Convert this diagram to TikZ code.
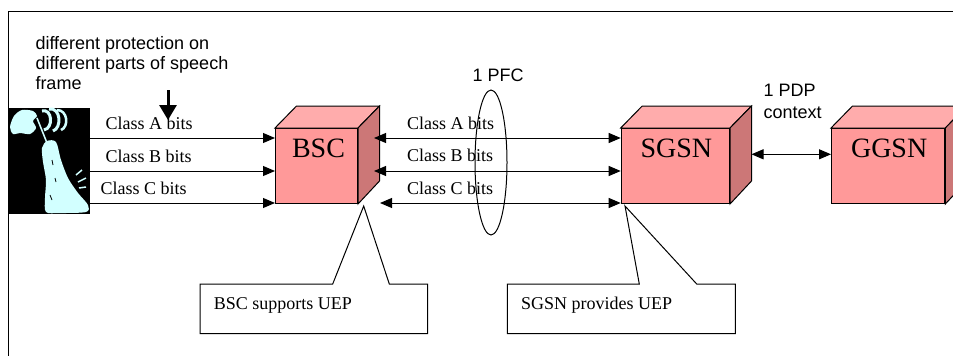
\documentclass[tikz,border=0pt]{standalone}
\usepackage{fontspec}
\setmainfont{Liberation Serif}
\newfontfamily\arialf{Liberation Sans}
\usetikzlibrary{arrows.meta}
\definecolor{boxfront}{RGB}{255,153,153}
\definecolor{boxtop}{RGB}{255,172,172}
\definecolor{boxside}{RGB}{204,119,119}
\definecolor{phonecyan}{RGB}{210,255,255}
\begin{document}
\begin{tikzpicture}[x=1pt,y=-1pt,line width=1pt,
  frontface/.style={draw,fill=boxfront,minimum height=75,inner sep=0,anchor=north west},
  boxlabel/.style={font=\fontsize{28}{30}\selectfont,anchor=north,inner sep=0},
  bits/.style={font=\fontsize{18}{20}\selectfont,anchor=base west,inner sep=0},
  sanstext/.style={font=\arialf\fontsize{18}{20}\selectfont,anchor=base west,inner sep=0,align=left},
  tipstyle/.tip={Triangle[length=12pt,width=10pt]},
  link/.style={-tipstyle},
  dlink/.style={tipstyle-tipstyle},
  notebox/.style={inner sep=0,anchor=north west,minimum height=48.7},
  notetext/.style={font=\fontsize{18}{20}\selectfont,anchor=base west,inner sep=0}]
\useasboundingbox (0,0) rectangle (953,356);
% frame
\coordinate (fbl) at (8,356);
\coordinate (ftl) at (8,11);
\coordinate (ftr) at (953,11);
\draw (fbl) -- (ftl) -- (ftr);

% phone clip-art
\node[fill=black,minimum width=81,minimum height=106,inner sep=0,anchor=north west] (phone) at (8,107) {};
\fill[phonecyan] plot[smooth cycle] coordinates {(42,148) (47,141) (56,142) (61,160) (68,178) (78,193) (88,205) (86,212) (60,213) (46,212) (45,198) (46,180) (43,162)};
\draw[phonecyan,line width=1.5] (37,118) -- (47,143);
\fill[phonecyan] plot[smooth cycle] coordinates {(10,127) (14,116) (22,110) (33,111) (37,116) (33,121) (36,128) (30,134) (20,133) (13,134)};
\draw[phonecyan,line width=3] (42,111) .. controls (52,108) and (54,128) .. (44,130);
\draw[phonecyan,line width=3] (49,109) .. controls (61,107) and (62,128) .. (53,131);
\draw[phonecyan,line width=2.5] (57,110) .. controls (68,110) and (69,127) .. (61,130);
\draw[phonecyan,line width=1.5] (76,175) -- (82,170) (78,182) -- (86,178) (79,188) -- (86,187);
\draw[black,line width=0.8] (52,160) -- (53,165) (55,178) -- (56,182) (50,195) -- (52,200);

% boxes
\node[frontface,minimum width=82] (bsc) at (275,128) {};
\node[frontface,minimum width=108.3] (sgsn) at (620.7,128) {};
\node[frontface,minimum width=113.3] (ggsn) at (831,128) {};
\foreach \b in {bsc,sgsn,ggsn}{
  \draw[fill=boxtop] (\b.north west) -- ++(21.5,-22) -- ([shift={(21.5,-22)}]\b.north east) -- (\b.north east) -- cycle;
  \draw[fill=boxside] (\b.north east) -- ++(21.5,-22) -- ++(0,75) -- (\b.south east) -- cycle;
}
\node[boxlabel] (bsclbl) at ([shift={(2,10)}]bsc.north) {BSC};
\node[boxlabel] (sgsnlbl) at ([shift={(1,10)}]sgsn.north) {SGSN};
\node[boxlabel] (ggsnlbl) at ([shift={(1,10)}]ggsn.north) {GGSN};

% rows
\coordinate (ya) at (0,138);
\coordinate (yb) at (0,171);
\coordinate (yc) at (0,203);
\draw[link] (phone.east |- ya) -- (bsc.west |- ya);
\draw[link] (phone.east |- yb) -- (bsc.west |- yb);
\draw[link] (phone.east |- yc) -- (bsc.west |- yc);
\draw[dlink] ([shift={(16,0)}]bsc.east |- ya) -- (sgsn.west |- ya);
\draw[dlink] ([shift={(16,0)}]bsc.east |- yb) -- (sgsn.west |- yb);
\draw[dlink] ([shift={(22,0)}]bsc.east |- yc) -- (sgsn.west |- yc);
\coordinate (yp) at (0,154.3);
\draw[dlink] ([shift={(21.5,0)}]sgsn.east |- yp) -- (ggsn.west |- yp);

\node[bits] (la1) at (105,129) {Class A bits};
\node[bits] (lb1) at (105,162) {Class B bits};
\node[bits] (lc1) at (100,194) {Class C bits};
\node[bits] (la2) at (406.7,129) {Class A bits};
\node[bits] (lb2) at (406.7,161.7) {Class B bits};
\node[bits] (lc2) at (406.7,194) {Class C bits};

% PFC ellipse
\draw (491,162.5) ellipse [x radius=16,y radius=72.5];
\node[sanstext] (pfc) at (472,81) {1 PFC};
\node[sanstext,font=\arialf\fontsize{18}{21.6}\selectfont] (pdp) at (763,118.3) {1 PDP\\context};

% protection note
\node[sanstext] (prot) at (35,89.3) {different protection on\\different parts of speech\\frame};
\coordinate (dtail) at (168,90);
\coordinate (dtip) at (168,120);
\draw[line width=3,-{Triangle[length=15pt,width=17pt]}] (dtail) -- (dtip);

% callouts
\node[notebox,minimum width=226.7] (bscnote) at (200,284) {};
\coordinate (bsctip) at ([shift={(5.7,2)}]bsc.south east);
\draw[fill=white] (bscnote.north west) -- ([shift={(132.7,0)}]bscnote.north west) -- (bsctip)
  -- ([shift={(189.3,0)}]bscnote.north west) -- (bscnote.north east) -- (bscnote.south east)
  -- (bscnote.south west) -- cycle;
\node[notetext] (bscnotetxt) at ([shift={(13.3,25)}]bscnote.north west) {BSC supports UEP};

\node[notebox,minimum width=227] (sgsnnote) at (507.3,284) {};
\coordinate (sgsntip) at ([shift={(4.3,2)}]sgsn.south west);
\draw[fill=white] (sgsnnote.north west) -- ([shift={(132,0)}]sgsnnote.north west) -- (sgsntip)
  -- ([shift={(189.4,0)}]sgsnnote.north west) -- (sgsnnote.north east) -- (sgsnnote.south east)
  -- (sgsnnote.south west) -- cycle;
\node[notetext] (sgsnnotetxt) at ([shift={(13.4,25)}]sgsnnote.north west) {SGSN provides UEP};
\end{tikzpicture}
\end{document}
